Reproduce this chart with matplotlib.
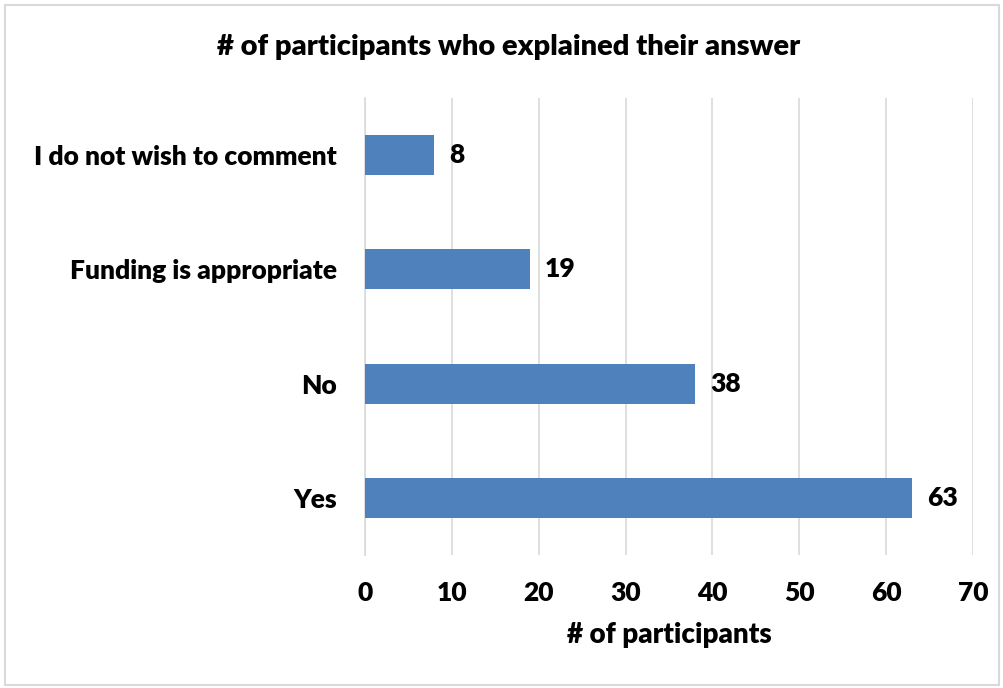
import matplotlib
matplotlib.use("Agg")
import matplotlib.pyplot as plt
from matplotlib.patches import Rectangle

categories = ["Yes", "No", "Funding is appropriate", "I do not wish to comment"]
values = [63, 38, 19, 8]
xticks = [0, 10, 20, 30, 40, 50, 60, 70]
title = "# of participants who explained their answer"
xlabel = "# of participants"

plt.rcParams['font.family'] = ['Lato', 'DejaVu Sans']
W = 'heavy'

fig = plt.figure(figsize=(10.04, 6.88), dpi=100)
fig.patches.append(Rectangle((5/1004, 3/688), 994/1004, 680/688, transform=fig.transFigure,
                             fill=False, edgecolor='#d9d9d9', linewidth=1.5))
ax = fig.add_axes([365/1004, 133/688, 608/1004, 457/688])

y = range(len(categories))
ax.barh(y, values, height=0.35, color='#4f81bd', zorder=3)
for yi, v in zip(y, values):
    ax.text(v + 1.7, yi, str(v), va='center', ha='left', fontsize=19, fontweight=W, color='black')

ax.set_xlim(0, 70)
ax.set_ylim(-0.5, 3.5)
ax.set_xticks(xticks)
ax.set_yticks(list(y))
ax.set_yticklabels(categories)
ax.grid(axis='x', color='#d9d9d9', linewidth=1.2, zorder=0)
for s in ['top', 'right', 'bottom']:
    ax.spines[s].set_visible(False)
ax.spines['left'].set_color('#d9d9d9')
ax.spines['left'].set_linewidth(1.2)
ax.tick_params(axis='both', length=0, labelsize=19)
ax.tick_params(axis='x', pad=19)
ax.tick_params(axis='y', pad=20)
for lbl in ax.get_xticklabels() + ax.get_yticklabels():
    lbl.set_fontweight(W)
ax.set_xlabel(xlabel, fontsize=20, fontweight=W, labelpad=12)
fig.text(509/1004, 1 - 47/688, title, ha='center', va='center', fontsize=21, fontweight=W)

fig.savefig("out.png", dpi=100)
